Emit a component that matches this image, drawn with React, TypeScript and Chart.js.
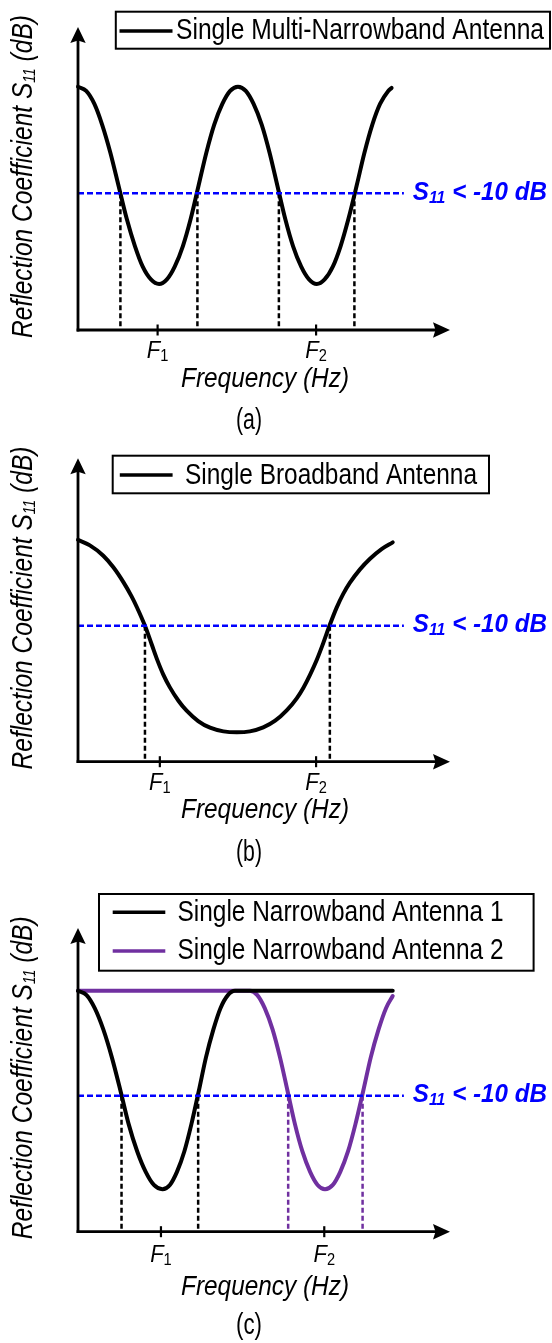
import React, { useEffect, useRef } from "react";
import { Chart, registerables } from "chart.js";

Chart.register(...registerables);

// ---------------- Data (x: frequency, arbitrary units 0..10; y: |S11| level, arbitrary units 0..10) -------------
// Panel (a): single multi-narrowband antenna
const freqA = [0, 0.22, 0.44, 0.65, 0.87, 1.09, 1.31, 1.53, 1.74, 1.96, 2.18, 2.39, 2.6, 2.82, 3.03, 3.24, 3.45, 3.66, 3.88, 4.09, 4.3, 4.51, 4.72, 4.94, 5.15, 5.36, 5.57, 5.78, 6.0, 6.21, 6.42, 6.63, 6.85, 7.06, 7.27, 7.49, 7.7, 7.91, 8.12, 8.34, 8.43];
const s11A = [8.03, 7.89, 7.46, 6.77, 5.85, 4.76, 3.67, 2.77, 2.09, 1.67, 1.52, 1.67, 2.09, 2.77, 3.67, 4.76, 5.85, 6.77, 7.46, 7.89, 8.03, 7.89, 7.46, 6.77, 5.85, 4.76, 3.67, 2.77, 2.09, 1.67, 1.52, 1.67, 2.09, 2.77, 3.67, 4.76, 5.85, 6.77, 7.46, 7.89, 7.99];
const crossA = [1.14, 3.21, 5.4, 7.43];
const thresholdA = 4.51;
const markersA = [2.14, 6.4];

// Panel (b): single broadband antenna
const freqB = [0, 0.32, 0.68, 0.95, 1.22, 1.44, 1.58, 1.8, 1.98, 2.12, 2.29, 2.47, 2.7, 2.92, 3.23, 3.55, 3.91, 4.27, 4.62, 4.98, 5.3, 5.61, 5.88, 6.06, 6.24, 6.42, 6.59, 6.76, 6.95, 7.13, 7.31, 7.58, 7.85, 8.16, 8.46];
const s11B = [7.31, 7.13, 6.79, 6.41, 5.92, 5.45, 5.1, 4.48, 3.87, 3.39, 2.88, 2.45, 2.01, 1.68, 1.34, 1.12, 1.0, 0.97, 1.0, 1.13, 1.35, 1.69, 2.09, 2.44, 2.87, 3.36, 3.9, 4.48, 5.07, 5.53, 5.9, 6.34, 6.69, 7.01, 7.23];
const crossB = [1.8, 6.77];
const thresholdB = 4.48;
const markersB = [2.2, 6.4];

// Panel (c): two single narrowband antennas
const freqC1 = [0, 0.23, 0.45, 0.68, 0.91, 1.14, 1.36, 1.59, 1.82, 2.04, 2.27, 2.47, 2.66, 2.86, 3.05, 3.25, 3.44, 3.64, 3.83, 4.03, 4.22, 5.5, 8.46];
const s11C1 = [7.93, 7.79, 7.36, 6.66, 5.74, 4.65, 3.55, 2.65, 1.97, 1.54, 1.4, 1.54, 1.97, 2.65, 3.55, 4.65, 5.74, 6.66, 7.36, 7.79, 7.93, 7.93, 7.93];
const freqC2 = [0, 2.5, 4.62, 4.82, 5.02, 5.23, 5.43, 5.63, 5.83, 6.03, 6.24, 6.44, 6.64, 6.85, 7.05, 7.26, 7.46, 7.67, 7.87, 8.08, 8.28, 8.46];
const s11C2 = [7.93, 7.93, 7.93, 7.79, 7.36, 6.66, 5.74, 4.65, 3.55, 2.65, 1.97, 1.54, 1.4, 1.54, 1.97, 2.65, 3.55, 4.65, 5.74, 6.66, 7.36, 7.76];
const crossC1 = [1.17, 3.23];
const crossC2 = [5.65, 7.65];
const thresholdC = 4.48;
const markersC = [2.23, 6.62];

const thresholdEnd = 8.76;
const markerSubs = ["1", "2"];

const legendLabelsA = ["Single Multi-Narrowband Antenna"];
const legendLabelsB = ["Single Broadband Antenna"];
const legendLabelsC = ["Single Narrowband Antenna 1", "Single Narrowband Antenna 2"];
const panelTags = ["(a)", "(b)", "(c)"];
const yTitleParts = ["Reflection Coefficient ", "S", "11", " (dB)"];
const xTitle = "Frequency (Hz)";
const thresholdParts = ["S", "11", " < -10 dB"];

// ---------------- Styles -------------
const FONT = '"Liberation Sans", Arial, Helvetica, sans-serif';
const BLACK = "#000000";
const BLUE = "#0000ff";
const PURPLE = "#7030a0";
const W = 552;

type Seg = { t: string; size: number; italic?: boolean; bold?: boolean; dy?: number };

function segFont(s: Seg) {
  return `${s.italic ? "italic " : ""}${s.bold ? "bold " : ""}${s.size}px ${FONT}`;
}

function drawRich(
  ctx: CanvasRenderingContext2D,
  segs: Seg[],
  x: number,
  y: number,
  o: { align: "left" | "center" | "right"; width?: number; sx?: number; color: string; rotate?: boolean }
) {
  ctx.save();
  let natural = 0;
  for (const s of segs) {
    ctx.font = segFont(s);
    natural += ctx.measureText(s.t).width;
  }
  const sx = o.width ? o.width / natural : o.sx ?? 0.82;
  const total = natural * sx;
  ctx.translate(x, y);
  if (o.rotate) ctx.rotate(-Math.PI / 2);
  const start = o.align === "center" ? -total / 2 : o.align === "right" ? -total : 0;
  ctx.translate(start, 0);
  ctx.scale(sx, 1);
  ctx.fillStyle = o.color;
  ctx.textAlign = "left";
  ctx.textBaseline = "alphabetic";
  let cx = 0;
  for (const s of segs) {
    ctx.font = segFont(s);
    ctx.fillText(s.t, cx, s.dy ?? 0);
    cx += ctx.measureText(s.t).width;
  }
  ctx.restore();
}

type Series = { x: number[]; y: number[]; color: string };
type Cross = { x: number[]; color: string };
type LegendEntry = { label: string; color: string; lineY: number; baseline: number };
type Panel = {
  tag: string;
  top: number;
  height: number;
  arrowTop: number;
  axisY: number;
  series: Series[];
  crossings: Cross[];
  threshold: number;
  markers: number[];
  legend: { box: number[]; entries: LegendEntry[]; lineX: number[]; textX: number; textW: number };
  fDy: number;
  freqDy: number;
  tagDy: number;
};

const panels: Panel[] = [
  {
    tag: panelTags[0],
    top: 0,
    height: 445,
    arrowTop: 27,
    axisY: 330,
    series: [{ x: freqA, y: s11A, color: BLACK }],
    crossings: [{ x: crossA, color: BLACK }],
    threshold: thresholdA,
    markers: markersA,
    legend: {
      box: [115.8, 11.7, 550, 48.7],
      entries: [{ label: legendLabelsA[0], color: BLACK, lineY: 31, baseline: 38.5 }],
      lineX: [119.5, 172.5],
      textX: 176,
      textW: 368,
    },
    fDy: 28.3,
    freqDy: 56.7,
    tagDy: 99,
  },
  {
    tag: panelTags[1],
    top: 430,
    height: 440,
    arrowTop: 458.3,
    axisY: 761.7,
    series: [{ x: freqB, y: s11B, color: BLACK }],
    crossings: [{ x: crossB, color: BLACK }],
    threshold: thresholdB,
    markers: markersB,
    legend: {
      box: [112.7, 455.7, 489, 493.3],
      entries: [{ label: legendLabelsB[0], color: BLACK, lineY: 475, baseline: 483.5 }],
      lineX: [119.8, 172.6],
      textX: 185,
      textW: 292,
    },
    fDy: 28.3,
    freqDy: 56.7,
    tagDy: 99,
  },
  {
    tag: panelTags[2],
    top: 860,
    height: 483,
    arrowTop: 928,
    axisY: 1231.7,
    series: [
      { x: freqC1, y: s11C1, color: BLACK },
      { x: freqC2, y: s11C2, color: PURPLE },
    ],
    crossings: [
      { x: crossC1, color: BLACK },
      { x: crossC2, color: PURPLE },
    ],
    threshold: thresholdC,
    markers: markersC,
    legend: {
      box: [99, 894, 533.6, 970.7],
      entries: [
        { label: legendLabelsC[0], color: BLACK, lineY: 912.3, baseline: 920.5 },
        { label: legendLabelsC[1], color: PURPLE, lineY: 951, baseline: 959 },
      ],
      lineX: [112.7, 165.3],
      textX: 177.5,
      textW: 326,
    },
    fDy: 30,
    freqDy: 63,
    tagDy: 102.5,
  },
];

function makeOverlay(p: Panel) {
  return {
    id: "overlay-" + p.tag,
    afterDatasetsDraw(chart: any) {
      const ctx: CanvasRenderingContext2D = chart.ctx;
      const a = chart.chartArea;
      const xs = chart.scales.x;
      const ys = chart.scales.y;
      const x0 = a.left;
      const yAx = a.bottom;
      const top = a.top;
      const right = a.right;
      const off = p.top;

      ctx.save();
      // axes
      ctx.strokeStyle = BLACK;
      ctx.lineWidth = 2.8;
      ctx.beginPath();
      ctx.moveTo(x0, yAx + 1.4);
      ctx.lineTo(x0, top + 12);
      ctx.stroke();
      ctx.beginPath();
      ctx.moveTo(x0 - 1.4, yAx);
      ctx.lineTo(right - 12, yAx);
      ctx.stroke();
      ctx.fillStyle = BLACK;
      ctx.beginPath();
      ctx.moveTo(x0, top);
      ctx.lineTo(x0 - 7.7, top + 16);
      ctx.lineTo(x0, top + 13.5);
      ctx.lineTo(x0 + 7.7, top + 16);
      ctx.closePath();
      ctx.fill();
      ctx.beginPath();
      ctx.moveTo(right, yAx);
      ctx.lineTo(right - 17, yAx - 7.8);
      ctx.lineTo(right - 14.5, yAx);
      ctx.lineTo(right - 17, yAx + 7.8);
      ctx.closePath();
      ctx.fill();
      // marker ticks
      ctx.lineWidth = 2.2;
      for (const m of p.markers) {
        const px = xs.getPixelForValue(m);
        ctx.beginPath();
        ctx.moveTo(px, yAx - 5.5);
        ctx.lineTo(px, yAx + 5.5);
        ctx.stroke();
      }
      ctx.restore();

      // marker labels F1, F2
      p.markers.forEach((m, i) => {
        drawRich(
          ctx,
          [
            { t: "F", size: 24, italic: true },
            { t: markerSubs[i], size: 16, dy: 3 },
          ],
          xs.getPixelForValue(m),
          yAx + p.fDy,
          { align: "center", width: 21.5, color: BLACK }
        );
      });

      // x title
      drawRich(ctx, [{ t: xTitle, size: 28, italic: true }], (x0 + right) / 2 + 1, yAx + p.freqDy, {
        align: "center",
        width: 168,
        color: BLACK,
      });

      // panel tag
      drawRich(ctx, [{ t: p.tag, size: 30 }], 249, yAx + p.tagDy, { align: "center", width: 26, color: BLACK });

      // y title (rotated)
      drawRich(
        ctx,
        [
          { t: yTitleParts[0], size: 30, italic: true },
          { t: yTitleParts[1], size: 30, italic: true },
          { t: yTitleParts[2], size: 17, italic: true, dy: 3 },
          { t: yTitleParts[3], size: 30, italic: true },
        ],
        31.5,
        (top + yAx) / 2 - 2,
        { align: "center", width: 323, color: BLACK, rotate: true }
      );

      // threshold label
      drawRich(
        ctx,
        [
          { t: thresholdParts[0], size: 26, italic: true, bold: true },
          { t: thresholdParts[1], size: 17, italic: true, bold: true, dy: 3 },
          { t: thresholdParts[2], size: 26, italic: true, bold: true },
        ],
        xs.getPixelForValue(thresholdEnd) + 9,
        ys.getPixelForValue(p.threshold) + 6.5,
        { align: "left", width: 134, color: BLUE }
      );

      // legend
      const L = p.legend;
      ctx.save();
      ctx.fillStyle = "#ffffff";
      ctx.fillRect(L.box[0], L.box[1] - off, L.box[2] - L.box[0], L.box[3] - L.box[1]);
      ctx.strokeStyle = BLACK;
      ctx.lineWidth = 2;
      ctx.strokeRect(L.box[0], L.box[1] - off, L.box[2] - L.box[0], L.box[3] - L.box[1]);
      ctx.lineWidth = 3.4;
      for (const e of L.entries) {
        ctx.strokeStyle = e.color;
        ctx.beginPath();
        ctx.moveTo(L.lineX[0], e.lineY - off);
        ctx.lineTo(L.lineX[1], e.lineY - off);
        ctx.stroke();
      }
      ctx.restore();
      for (const e of L.entries) {
        drawRich(ctx, [{ t: e.label, size: 29 }], L.textX, e.baseline - off, {
          align: "left",
          width: L.textW,
          color: BLACK,
        });
      }
    },
  };
}

function PanelChart({ p }: { p: Panel }) {
  const ref = useRef<HTMLCanvasElement>(null);
  useEffect(() => {
    if (!ref.current) return;
    const datasets: any[] = [];
    datasets.push({
      data: [
        { x: 0, y: p.threshold },
        { x: thresholdEnd, y: p.threshold },
      ],
      borderColor: BLUE,
      borderWidth: 2.5,
      borderDash: [6, 3],
      pointRadius: 0,
      tension: 0,
      clip: false,
    });
    for (const c of p.crossings) {
      for (const cx of c.x) {
        datasets.push({
          data: [
            { x: cx, y: p.threshold },
            { x: cx, y: 0 },
          ],
          borderColor: c.color,
          borderWidth: 2.5,
          borderDash: [5, 3],
          pointRadius: 0,
          tension: 0,
          clip: false,
        });
      }
    }
    for (const s of p.series) {
      datasets.push({
        data: s.x.map((x, i) => ({ x, y: s.y[i] })),
        borderColor: s.color,
        borderWidth: 4,
        pointRadius: 0,
        cubicInterpolationMode: "monotone",
        borderCapStyle: "round",
        borderJoinStyle: "round",
        clip: false,
      });
    }
    const chart = new Chart(ref.current, {
      type: "line",
      data: { datasets },
      options: {
        animation: false,
        responsive: false,
        maintainAspectRatio: false,
        events: [],
        layout: {
          padding: {
            left: 78,
            right: W - 450,
            top: p.arrowTop - p.top,
            bottom: p.top + p.height - p.axisY,
          },
        },
        scales: {
          x: { type: "linear", min: 0, max: 10, display: false },
          y: { type: "linear", min: 0, max: 10, display: false },
        },
        plugins: {
          legend: { display: false },
          tooltip: { enabled: false },
          title: { display: false },
        },
      },
      plugins: [makeOverlay(p)],
    } as any);
    return () => chart.destroy();
  }, [p]);
  return (
    <canvas
      ref={ref}
      width={W}
      height={p.height}
      style={{ position: "absolute", left: 0, top: p.top, width: W, height: p.height, display: "block" }}
    />
  );
}

export default function App() {
  return (
    <div style={{ position: "absolute", left: 0, top: 0, width: W, height: 1343, background: "#ffffff", overflow: "hidden" }}>
      {panels.map((p) => (
        <PanelChart key={p.tag} p={p} />
      ))}
    </div>
  );
}
